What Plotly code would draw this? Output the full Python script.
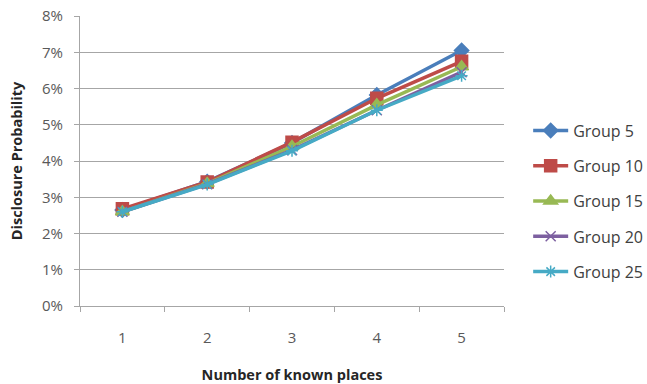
import plotly.graph_objects as go

categories = ["1", "2", "3", "4", "5"]
group_names = ["Group 5", "Group 10", "Group 15", "Group 20", "Group 25"]
g5 = [0.0265, 0.0343, 0.0450, 0.0582, 0.0705]
g10 = [0.0268, 0.0342, 0.0452, 0.0573, 0.0675]
g15 = [0.0260, 0.0338, 0.0440, 0.0555, 0.0660]
g20 = [0.0260, 0.0336, 0.0430, 0.0540, 0.0645]
g25 = [0.0260, 0.0335, 0.0428, 0.0540, 0.0635]
series = [g5, g10, g15, g20, g25]
y_ticks = [0, 0.01, 0.02, 0.03, 0.04, 0.05, 0.06, 0.07, 0.08]

colors = ["#4a7ebb", "#be4b48", "#98b954", "#7d60a0", "#46aac5"]
symbols = ["diamond", "square", "triangle-up", "x-thin", "asterisk"]
sizes = [11, 12, 12, 10, 10]

fig = go.Figure()
for name, vals, c, s, sz in zip(group_names, series, colors, symbols, sizes):
    fig.add_trace(go.Scatter(
        x=categories, y=vals, name=name, mode="lines+markers", legendgroup=name,
        line=dict(color=c, width=3.5),
        marker=dict(symbol=s, size=sz, color=c, line=dict(color=c, width=1.5)),
    ))

font = "'Open Sans', sans-serif"
fig.update_layout(
    width=647, height=384,
    margin=dict(l=80, r=143, t=16, b=78, autoexpand=False),
    paper_bgcolor="white", plot_bgcolor="white",
    font=dict(family=font, size=15, color="#595959"),
    showlegend=True,
    legend=dict(x=1.057, y=0.362, xanchor="left", yanchor="middle",
                font=dict(size=16, color="#404040"),
                tracegroupgap=11.5, itemwidth=35,
                bgcolor="rgba(0,0,0,0)"),
    xaxis=dict(
        type="category", range=[-0.5, 4.5],
        showline=True, linecolor="#a6a6a6", linewidth=1,
        ticks="outside", tickson="boundaries", ticklen=5, tickcolor="#a6a6a6",
        showgrid=False, zeroline=False, ticklabelstandoff=18,
        title=dict(text="<b>Number of known places</b>", font=dict(size=14.5, color="#262626"), standoff=25),
        tickfont=dict(size=15, color="#595959"),
    ),
    yaxis=dict(
        range=[0, 0.08], tickvals=y_ticks, tickformat=".0%",
        showline=True, linecolor="#a6a6a6", linewidth=1,
        ticks="outside", ticklen=5, tickcolor="#a6a6a6",
        showgrid=True, gridcolor="#a6a6a6", gridwidth=1, zeroline=False,
        ticklabelstandoff=8,
        title=dict(text="<b>Disclosure Probability</b>", font=dict(size=14.5, color="#262626"), standoff=15),
        tickfont=dict(size=15, color="#595959"),
    ),
)

fig.write_html("out.html")
